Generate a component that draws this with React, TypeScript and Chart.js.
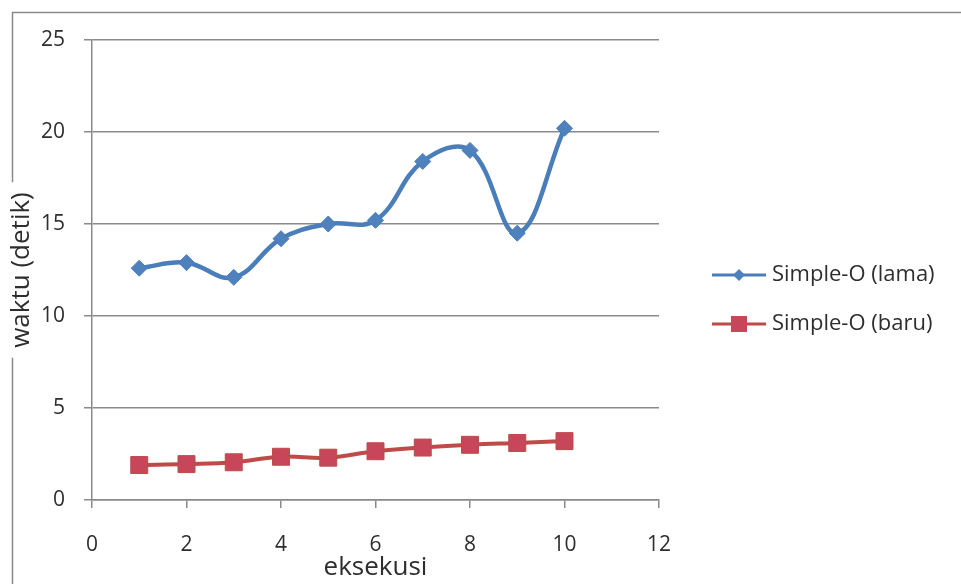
import React, { useEffect, useRef } from "react";
import { Chart, registerables } from "chart.js";

Chart.register(...registerables);

const executions = [1, 2, 3, 4, 5, 6, 7, 8, 9, 10];
const simpleOLama = [12.6, 12.9, 12.1, 14.2, 15.0, 15.2, 18.4, 19.0, 14.5, 20.2];
const simpleOBaru = [1.9, 1.95, 2.05, 2.35, 2.3, 2.65, 2.85, 3.0, 3.1, 3.2];
const seriesLabels = ["Simple-O (lama)", "Simple-O (baru)"];
const xTitle = "eksekusi";
const yTitle = "waktu (detik)";

const FONT = "'Open Sans', 'DejaVu Sans', sans-serif";
const GRID = "#8a8a8a";
const TEXT = "#2e2e2e";
const BLUE = "#4A7EBB";
const BLUE_FILL = "#4F81BD";
const RED = "#BE4B48";
const RED_FILL = "#C8465A";

const framePlugin = {
  id: "frame",
  beforeDraw(chart: any) {
    const ctx = chart.ctx;
    const y = chart.scales.y;
    ctx.save();
    ctx.font = `26px ${FONT}`;
    const tw = ctx.measureText(yTitle).width;
    const cy = (y.top + y.bottom) / 2;
    const g0 = cy - tw / 2 - 10;
    const g1 = cy + tw / 2 + 10;
    ctx.strokeStyle = GRID;
    ctx.lineWidth = 1.5;
    ctx.beginPath();
    ctx.moveTo(12, 12.5);
    ctx.lineTo(chart.width, 12.5);
    ctx.moveTo(12.5, 12);
    ctx.lineTo(12.5, g0);
    ctx.moveTo(12.5, g1);
    ctx.lineTo(12.5, chart.height);
    ctx.stroke();
    ctx.restore();
  },
};

const legendPlugin = {
  id: "customLegend",
  afterDraw(chart: any) {
    const ctx = chart.ctx;
    const rows = [275, 324];
    ctx.save();
    chart.data.datasets.forEach((ds: any, i: number) => {
      const yy = rows[i];
      ctx.strokeStyle = ds.borderColor;
      ctx.lineWidth = 3;
      ctx.beginPath();
      ctx.moveTo(712, yy);
      ctx.lineTo(766, yy);
      ctx.stroke();
      ctx.fillStyle = ds.pointBackgroundColor;
      ctx.beginPath();
      if (ds.pointStyle === "rectRot") {
        const r = 6;
        ctx.moveTo(739 - r, yy);
        ctx.lineTo(739, yy - r);
        ctx.lineTo(739 + r, yy);
        ctx.lineTo(739, yy + r);
        ctx.closePath();
      } else {
        ctx.rect(739 - 8, yy - 8, 16, 16);
      }
      ctx.fill();
      ctx.fillStyle = TEXT;
      ctx.font = `22px ${FONT}`;
      ctx.textBaseline = "middle";
      ctx.textAlign = "left";
      ctx.fillText(ds.label, 772, yy);
    });
    ctx.restore();
  },
};

export default function App() {
  const ref = useRef<HTMLCanvasElement | null>(null);
  useEffect(() => {
    if (!ref.current) return;
    Chart.defaults.font.family = FONT;
    const chart = new Chart(ref.current, {
      type: "line",
      data: {
        datasets: [
          {
            label: seriesLabels[0],
            data: executions.map((x, i) => ({ x, y: simpleOLama[i] })),
            borderColor: BLUE,
            backgroundColor: BLUE_FILL,
            pointBackgroundColor: BLUE_FILL,
            pointBorderColor: BLUE,
            pointStyle: "rectRot",
            pointRadius: 8,
            pointBorderWidth: 1,
            borderWidth: 4.5,
            tension: 0.4,
          },
          {
            label: seriesLabels[1],
            data: executions.map((x, i) => ({ x, y: simpleOBaru[i] })),
            borderColor: RED,
            backgroundColor: RED_FILL,
            pointBackgroundColor: RED_FILL,
            pointBorderColor: RED,
            pointStyle: "rect",
            pointRadius: 12,
            pointBorderWidth: 1,
            borderWidth: 4,
            tension: 0.4,
          },
        ],
      },
      options: {
        animation: false,
        responsive: false,
        maintainAspectRatio: false,
        layout: { padding: { left: 0, top: 40, right: 302, bottom: 0 } },
        plugins: {
          legend: { display: false },
          tooltip: { enabled: false },
        },
        scales: {
          x: {
            type: "linear",
            min: 0,
            max: 12,
            ticks: {
              stepSize: 2,
              color: TEXT,
              padding: 24,
              font: { size: 21, family: FONT },
            },
            grid: {
              drawOnChartArea: false,
              drawTicks: true,
              tickLength: 8,
              color: GRID,
              lineWidth: 1.5,
            },
            border: { display: true, color: GRID, width: 1.5 },
            title: {
              display: true,
              text: xTitle,
              color: TEXT,
              font: { size: 26, family: FONT },
              padding: { top: 0, bottom: 1 },
            },
            afterFit: (s: any) => {
              s.height = 84;
            },
          },
          y: {
            type: "linear",
            min: 0,
            max: 25,
            ticks: {
              stepSize: 5,
              color: TEXT,
              padding: 19,
              font: { size: 21, family: FONT },
            },
            grid: {
              drawTicks: true,
              tickLength: 8,
              color: GRID,
              lineWidth: 1.5,
            },
            border: { display: true, color: GRID, width: 1.5 },
            title: {
              display: true,
              text: yTitle,
              color: TEXT,
              font: { size: 26, family: FONT },
              padding: { top: 6, bottom: 0 },
            },
            afterFit: (s: any) => {
              s.width = 92;
            },
          },
        },
      },
      plugins: [framePlugin, legendPlugin],
    } as any);
    return () => chart.destroy();
  }, []);
  return (
    <div style={{ position: "absolute", left: 0, top: 0, width: 961, height: 584, background: "#fff" }}>
      <canvas ref={ref} width={961} height={584} style={{ display: "block" }} />
    </div>
  );
}
